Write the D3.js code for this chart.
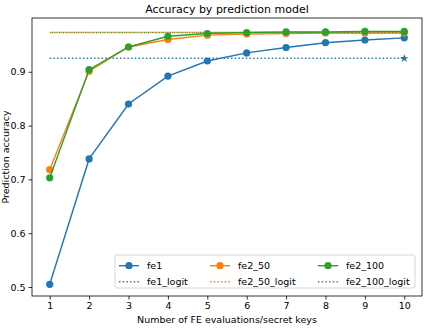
<!DOCTYPE html>
<html><head><meta charset="utf-8">
<script src="https://cdn.jsdelivr.net/npm/d3@7"></script>
<style>body{margin:0;background:#fff}svg{display:block;font-family:"DejaVu Sans",sans-serif}</style>
</head><body>
<svg id="c" width="424" height="328"></svg>
<script>
const xs = [1,2,3,4,5,6,7,8,9,10];
const fe1 = [0.505,0.738,0.840,0.892,0.920,0.935,0.945,0.954,0.959,0.963];
const fe2_50 = [0.718,0.901,0.946,0.960,0.968,0.970,0.971,0.972,0.972,0.972];
const fe2_100 = [0.703,0.904,0.946,0.966,0.971,0.973,0.974,0.974,0.975,0.975];
const fe1_logit = 0.925;
const fe2_50_logit = 0.973;
const fe2_100_logit = 0.973;
const yTicks = [0.5,0.6,0.7,0.8,0.9];
const xTicks = [1,2,3,4,5,6,7,8,9,10];
const seriesNames = ["fe1","fe1_logit","fe2_50","fe2_50_logit","fe2_100","fe2_100_logit"];
const colors = {fe1:"#1f77b4",fe2_50:"#ff7f0e",fe2_100:"#2ca02c"};

const svg = d3.select("#c");
const L=32, R=422, T=18, B=296;
const x = d3.scaleLinear().domain([0.55,10.45]).range([L,R]);
const y = d3.scaleLinear().domain([0.4833,0.9999]).range([B,T]);

const gx = svg.append("g").attr("transform",`translate(0,${B})`)
  .call(d3.axisBottom(x).tickValues(xTicks).tickSize(3.5).tickPadding(3).tickFormat(d3.format("d")));
const gy = svg.append("g").attr("transform",`translate(${L},0)`)
  .call(d3.axisLeft(y).tickValues(yTicks).tickSize(3.5).tickPadding(3).tickFormat(d3.format(".1f")));
[gx,gy].forEach(g=>{g.select(".domain").remove();g.selectAll("text").attr("font-size",9.5).attr("fill","#000").attr("font-family","DejaVu Sans");g.selectAll("line").attr("stroke","#000").attr("stroke-width",0.8);});

const line = d3.line().x((d,i)=>x(xs[i])).y(d=>y(d));
function drawSeries(vals,col){
  svg.append("path").datum(vals).attr("d",line).attr("fill","none").attr("stroke",col).attr("stroke-width",1.4);
  svg.append("g").selectAll("circle").data(vals).join("circle")
    .attr("cx",(d,i)=>x(xs[i])).attr("cy",d=>y(d)).attr("r",3.6).attr("fill",col);
}
function drawLogit(v,col,off){
  svg.append("line").attr("x1",x(xs[0])).attr("x2",x(xs[xs.length-1])).attr("y1",y(v)).attr("y2",y(v))
    .attr("stroke",col).attr("stroke-width",1.4).attr("stroke-dasharray","1.4,2.3").attr("stroke-dashoffset",off||0);
  svg.append("path").attr("d",d3.symbol(d3.symbolStar,22)()).attr("transform",`translate(${x(xs[xs.length-1])},${y(v)})`).attr("fill",col);
}
drawSeries(fe1,colors.fe1);
drawLogit(fe1_logit,colors.fe1);
drawSeries(fe2_50,colors.fe2_50);
drawLogit(fe2_50_logit,colors.fe2_50);
drawSeries(fe2_100,colors.fe2_100);
drawLogit(fe2_100_logit,colors.fe2_100,1.85);

svg.append("rect").attr("x",L).attr("y",T).attr("width",R-L).attr("height",B-T).attr("fill","none").attr("stroke","#000").attr("stroke-width",0.8);

const lg = svg.append("g");
lg.append("rect").attr("x",115).attr("y",255).attr("width",300).attr("height",33).attr("rx",2)
  .attr("fill","rgba(255,255,255,0.8)").attr("stroke","#ccc").attr("stroke-width",0.8);
const colX=[119,210,318], rowY=[265.7,281.7];
seriesNames.forEach((n,i)=>{
  const c=Math.floor(i/2), r=i%2, base=n.replace("_logit",""), col=colors[base];
  const hx=colX[c], hy=rowY[r];
  if(r===0){
    lg.append("line").attr("x1",hx).attr("x2",hx+20).attr("y1",hy).attr("y2",hy).attr("stroke",col).attr("stroke-width",1.4);
    lg.append("circle").attr("cx",hx+10).attr("cy",hy).attr("r",3.6).attr("fill",col);
  } else {
    lg.append("line").attr("x1",hx).attr("x2",hx+20).attr("y1",hy).attr("y2",hy).attr("stroke",col).attr("stroke-width",1.4).attr("stroke-dasharray","1.4,2.3");
  }
  lg.append("text").attr("x",hx+28).attr("y",hy+3.4).attr("font-size",9.5).text(n);
});

svg.append("text").attr("x",(L+R)/2).attr("y",13).attr("text-anchor","middle").attr("font-size",11).text("Accuracy by prediction model");
svg.append("text").attr("x",(L+R)/2).attr("y",323).attr("text-anchor","middle").attr("font-size",9.5).text("Number of FE evaluations/secret keys");
svg.append("text").attr("transform",`translate(8.5,${(T+B)/2}) rotate(-90)`).attr("text-anchor","middle").attr("font-size",9.5).text("Prediction accuracy");
</script>
</body></html>
